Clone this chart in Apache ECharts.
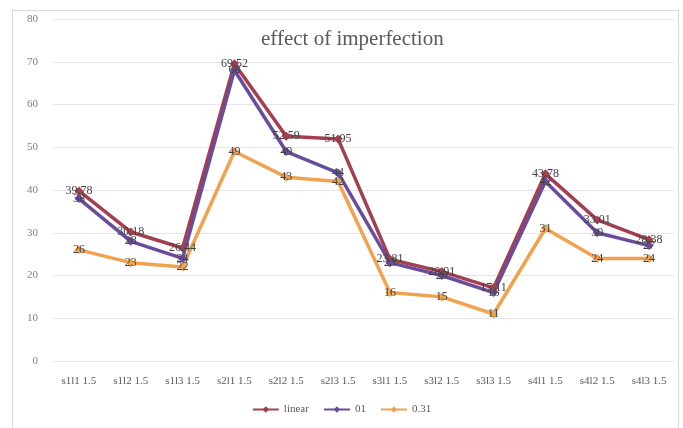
<!DOCTYPE html>
<html>
<head>
<meta charset="utf-8">
<script src="https://cdn.jsdelivr.net/npm/echarts@6/dist/echarts.min.js"></script>
<style>
  html, body { margin: 0; padding: 0; background: #fff; }
  #frame { position: absolute; left: 12px; top: 10px; width: 665px; height: 430px;
           border-left: 1px solid #d9d9d9; border-top: 1px solid #d9d9d9; border-right: 1px solid #d9d9d9; }
  #chart { position: absolute; left: 0; top: 0; width: 683px; height: 428px; }
</style>
</head>
<body>
<div id="frame"></div>
<div id="chart"></div>
<script>
// Section cases along the x axis
const categories = ['s1l1 1.5', 's1l2 1.5', 's1l3 1.5', 's2l1 1.5', 's2l2 1.5', 's2l3 1.5',
                    's3l1 1.5', 's3l2 1.5', 's3l3 1.5', 's4l1 1.5', 's4l2 1.5', 's4l3 1.5'];
// Capacity for each imperfection amplitude
const linearValues = [39.78, 30.18, 26.44, 69.52, 52.59, 51.95, 23.81, 20.91, 17.11, 43.78, 33.01, 28.38];
const imp01Values  = [38, 28, 24, 68, 49, 44, 23, 20, 16, 42, 30, 27];
const imp031Values = [26, 23, 22, 49, 43, 42, 16, 15, 11, 31, 24, 24];
const yTicks = { min: 0, max: 80, interval: 10 };

const serif = 'Liberation Serif';
const chart = echarts.init(document.getElementById('chart'), null, { renderer: 'canvas' });

function lineSeries(name, data, color) {
  return {
    name: name,
    type: 'line',
    data: data,
    symbol: 'diamond',
    symbolSize: 9,
    itemStyle: { color: color },
    lineStyle: { color: color, width: 3.5 },
    label: {
      show: true,
      position: 'inside',
      color: '#404040',
      fontFamily: serif,
      fontSize: 12
    },
    z: 2
  };
}

chart.setOption({
  animation: false,
  title: {
    text: 'effect of imperfection',
    left: 256,
    top: 24,
    textStyle: { fontFamily: serif, fontSize: 21, fontWeight: 'normal', color: '#595959' }
  },
  legend: {
    bottom: 8,
    left: 'center',
    itemWidth: 26,
    itemHeight: 8,
    itemGap: 14,
    textStyle: { fontFamily: serif, fontSize: 11, color: '#595959' },
    data: ['linear', '01', '0.31']
  },
  grid: { left: 53, right: 8, top: 19, bottom: 67 },
  xAxis: {
    type: 'category',
    data: categories,
    boundaryGap: true,
    axisLine: { show: false },
    axisTick: { show: false },
    axisLabel: { fontFamily: serif, fontSize: 11, color: '#595959', margin: 15, interval: 0 }
  },
  yAxis: {
    type: 'value',
    min: yTicks.min,
    max: yTicks.max,
    interval: yTicks.interval,
    axisLine: { show: false },
    axisTick: { show: false },
    axisLabel: { fontFamily: serif, fontSize: 11, color: '#7f7f7f', margin: 15 },
    splitLine: { lineStyle: { color: '#e6e6e6', width: 1 } }
  },
  series: [
    lineSeries('linear', linearValues, '#a33f4f'),
    lineSeries('01', imp01Values, '#6a4c9c'),
    lineSeries('0.31', imp031Values, '#f2a24e')
  ]
});
</script>
</body>
</html>
